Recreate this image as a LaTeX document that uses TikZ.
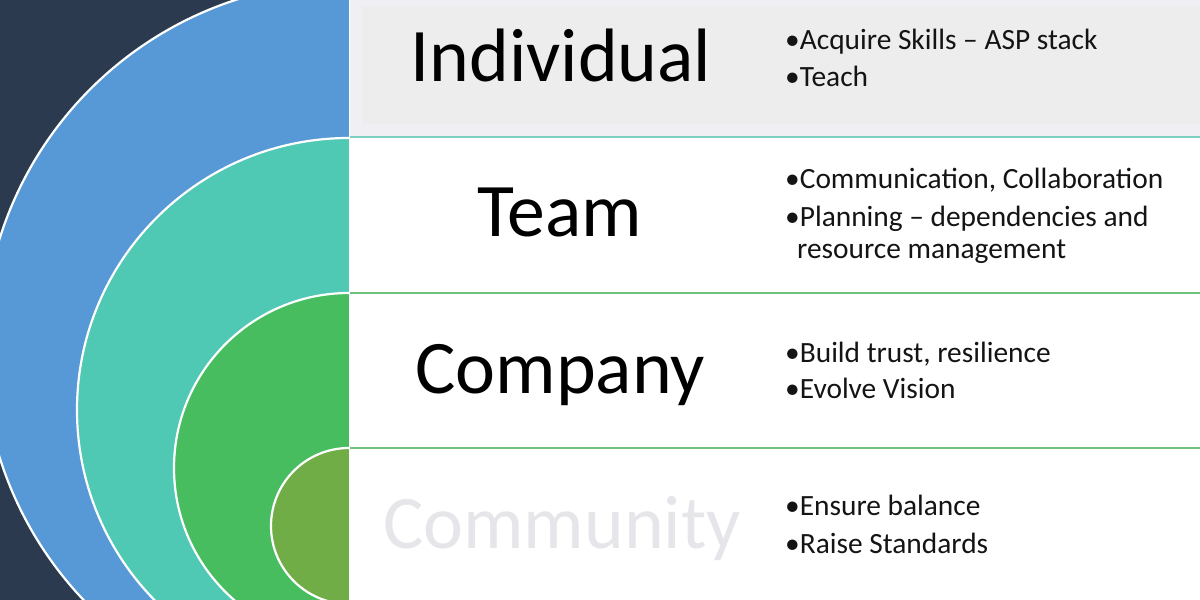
\documentclass[tikz,border=0pt]{standalone}
\usepackage{fontspec}
\setmainfont{Carlito}
\definecolor{navy}{HTML}{2C3A4F}
\definecolor{ringblue}{HTML}{5799D6}
\definecolor{ringteal}{HTML}{4FC8B4}
\definecolor{ringgreen}{HTML}{48BD60}
\definecolor{ringolive}{HTML}{71AD47}
\definecolor{rowgray}{HTML}{EDEDEE}
\definecolor{rowedge}{HTML}{EFEFF4}
\definecolor{lineteal}{HTML}{7CCFBF}
\definecolor{linegreen}{HTML}{6EC27C}
\definecolor{faint}{HTML}{E6E6EA}
\tikzset{
  ring/.style={draw=white, line width=2.2bp},
  lbl/.style={anchor=base, inner sep=0pt, font=\fontsize{76}{90}\selectfont},
  bul/.style={anchor=base west, inner sep=0pt, font=\fontsize{29.5}{34}\selectfont, text=black!92},
  rowline/.style={line width=2.4bp}
}
\begin{document}
\begin{tikzpicture}[x=1bp,y=-1bp]
\useasboundingbox (0,0) rectangle (1200,600);
% left panel
\fill[navy] (0,0) rectangle (349,600);
\begin{scope}
  \clip (0,0) rectangle (349,600);
  \filldraw[ring, fill=ringblue] (349,348) circle[radius=366bp];
  \filldraw[ring, fill=ringteal] (349,410) circle[radius=272bp];
  \filldraw[ring, fill=ringgreen] (349,468) circle[radius=175bp];
  \filldraw[ring, fill=ringolive] (349,526) circle[radius=78bp];
\end{scope}
% right panel
\fill[white] (349,0) rectangle (1200,600);
\fill[rowedge] (349,0) rectangle (1200,136);
\fill[rowgray] (362,6) rectangle (1200,124);
\draw[rowline, lineteal] (349,137) -- (1200,137);
\draw[rowline, linegreen] (349,293) -- (1200,293);
\draw[rowline, linegreen] (349,448) -- (1200,448);
\draw[white, line width=1.2bp] (349.6,0) -- (349.6,600);
% row labels
\node[lbl] (ind) at (561,82) {Individual};
\node[lbl] (team) at (560,237) {Team};
\node[lbl] (comp) at (560,393) {Company};
\node[lbl, text=faint] (comm) at (562,548) {Community};
% bullets
\node[bul] (b11) at (785,50) {•Acquire Skills – ASP stack};
\node[bul] (b12) at (785,87) {•Teach};
\node[bul] (b21) at (785,189) {•Communication, Collaboration};
\node[bul] (b22) at (785,227) {•Planning – dependencies and};
\node[bul] (b23) at (797,259) {resource management};
\node[bul] (b31) at (785,362) {•Build trust, resilience};
\node[bul] (b32) at (785,398) {•Evolve Vision};
\node[bul] (b41) at (785,515) {•Ensure balance};
\node[bul] (b42) at (785,553) {•Raise Standards};
\end{tikzpicture}
\end{document}
